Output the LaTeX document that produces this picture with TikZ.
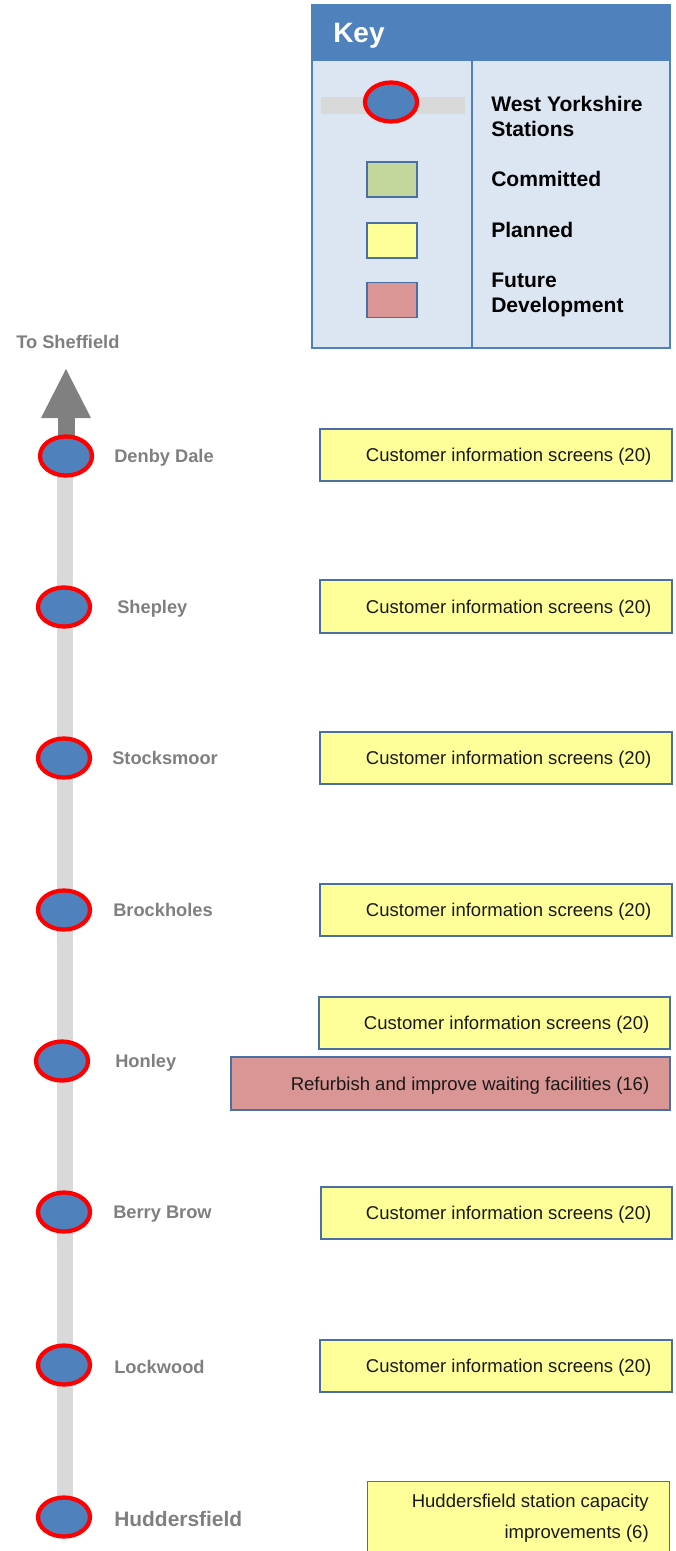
\documentclass[tikz,border=0pt]{standalone}
\usepackage{fontspec}
\setmainfont{Liberation Sans}
\usetikzlibrary{shapes.geometric,backgrounds}
\newlength\px \setlength\px{0.75pt}
\definecolor{keyblue}{HTML}{4F81BD}
\definecolor{keyfill}{HTML}{DCE6F2}
\definecolor{stred}{HTML}{FF0000}
\definecolor{stblue}{HTML}{4F81BD}
\definecolor{railgray}{HTML}{D9D9D9}
\definecolor{arrowgray}{HTML}{808080}
\definecolor{labelgray}{HTML}{7F7F7F}
\definecolor{plannedc}{HTML}{FFFF99}
\definecolor{futurec}{HTML}{D99694}
\definecolor{committedc}{HTML}{C3D69B}
\definecolor{boxline}{HTML}{4A6FA5}
\newcommand\wybox[7]{%
  \node[wybox, fill=#6, minimum width={(#4-#2)*0.75pt}, minimum height={(#5-#3)*0.75pt}]
    (#1) at ({(#2+#4)/2},{(#3+#5)/2}) {};
  \node[boxtext, anchor=base east] (#1t) at ([xshift=-21\px,yshift=-6.6\px]#1.east) {#7};
}
\begin{document}
\begin{tikzpicture}[x=0.75pt,y=-0.75pt,
  station/.style={ellipse, draw=stred, fill=stblue, line width=3.2pt, minimum width=52\px, minimum height=39\px, inner sep=0pt},
  stlabel/.style={text=labelgray, font=\fontsize{13.7}{16}\bfseries\selectfont, anchor=base west, inner sep=0pt},
  wybox/.style={draw=boxline, line width=0.8pt, rectangle, inner sep=0pt},
  boxtext/.style={font=\fontsize{13.9}{16}\selectfont, inner sep=0pt, text=black!90},
  keytext/.style={font=\fontsize{15.8}{18.75}\bfseries\selectfont, text=black, inner sep=0pt, align=left},
  keysq/.style={draw=boxline, line width=0.8pt, minimum width=50\px, minimum height=35\px, inner sep=0pt}]
\clip (0,0) rectangle (675,1551);

% ---- Key ----
\node[draw=keyblue, line width=1.5pt, fill=keyfill, anchor=north west, minimum width={358*0.75pt}, minimum height={343*0.75pt}, inner sep=0pt] (key) at (311,4) {};
\node[fill=keyblue, anchor=north west, minimum width={358*0.75pt}, minimum height={57*0.75pt}, inner sep=0pt] (keyhead) at (311,4) {};
\node[text=white, font=\fontsize{21}{24}\bfseries\selectfont, anchor=base west, inner sep=0pt] (keytitle) at (333,43) {Key};
\coordinate (divtop) at (472,61);
\coordinate (divbot) at (472,347);
\draw[keyblue, line width=1.5pt] (divtop) -- (divbot);
\coordinate (kbarl) at (321,105.5);
\coordinate (kbarr) at (465,105.5);
\draw[railgray, line width=17\px] (kbarl) -- (kbarr);
\node[station] (kst) at (391,102) {};
\node[keytext, anchor=west] (kstt) at (491,116) {West Yorkshire\\Stations};
\node[keysq, fill=committedc] (kcom) at (392,179.5) {};
\node[keytext, anchor=base west] (kcomt) at (491,187) {Committed};
\node[keysq, fill=plannedc] (kpla) at (392,240.5) {};
\node[keytext, anchor=base west] (kplat) at (491,238) {Planned};
\node[keysq, fill=futurec] (kfut) at (392,300) {};
\node[keytext, anchor=west] (kfutt) at (491,295) {Future\\Development};

% ---- Line and stations ----
\node[stlabel] (sheffl) at (16,348.5) {To Sheffield};
\node[station] (s1) at (66,456) {};
\node[station] (s2) at (64,607) {};
\node[station] (s3) at (64,758) {};
\node[station] (s4) at (64,910) {};
\node[station] (s5) at (62,1061) {};
\node[station] (s6) at (64,1212) {};
\node[station] (s7) at (64,1365) {};
\node[station] (s8) at (64,1517) {};
\coordinate (railtop) at (65,456);
\coordinate (railbot) at (65,1510);
\coordinate (headbase) at (66,418);
\coordinate (headl) at (41,418);
\coordinate (headr) at (91,418);
\coordinate (tip) at (66,369);
\begin{scope}[on background layer]
  \draw[railgray, line width=16\px] (railtop) -- (railbot);
  \draw[arrowgray, line width=17\px] (s1.center) -- (headbase);
  \fill[arrowgray] (headl) -- (tip) -- (headr) -- cycle;
\end{scope}

\node[stlabel] (l1) at (114,462.5) {Denby Dale};
\node[stlabel] (l2) at (117,613.5) {Shepley};
\node[stlabel] (l3) at (112,764.5) {Stocksmoor};
\node[stlabel] (l4) at (113,916.5) {Brockholes};
\node[stlabel] (l5) at (115,1067.5) {Honley};
\node[stlabel] (l6) at (113,1218.5) {Berry Brow};
\node[stlabel] (l7) at (114,1373) {Lockwood};
\node[stlabel, font=\fontsize{15.7}{18}\bfseries\selectfont] (l8) at (114,1526.5) {Huddersfield};

% ---- Boxes ----
\wybox{b1}{320}{429}{672}{481}{plannedc}{Customer information screens (20)}
\wybox{b2}{320}{580}{672}{633}{plannedc}{Customer information screens (20)}
\wybox{b3}{320}{732}{672}{784}{plannedc}{Customer information screens (20)}
\wybox{b4}{320}{884}{672}{936}{plannedc}{Customer information screens (20)}
\wybox{b5a}{319}{997}{670}{1049}{plannedc}{Customer information screens (20)}
\wybox{b5b}{231}{1057}{670}{1110}{futurec}{Refurbish and improve waiting facilities (16)}
\wybox{b6}{321}{1187}{672}{1239}{plannedc}{Customer information screens (20)}
\wybox{b7}{320}{1340}{672}{1392}{plannedc}{Customer information screens (20)}
\node[wybox, fill=plannedc, anchor=north west, minimum width={302*0.75pt}, minimum height={90*0.75pt}] (b8) at (367,1481) {};
\node[boxtext, align=right, anchor=east, font=\fontsize{13.9}{23.25}\selectfont] (b8t) at (649,1518.5) {Huddersfield station capacity\\improvements (6)};
\end{tikzpicture}
\end{document}
